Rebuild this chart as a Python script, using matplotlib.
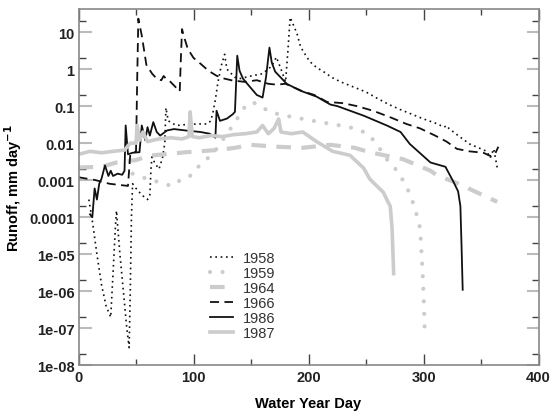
import matplotlib
matplotlib.use('Agg')
import matplotlib.pyplot as plt
from matplotlib.ticker import FixedLocator, FixedFormatter

plt.rcParams['font.family'] = ['Liberation Sans', 'DejaVu Sans']

# ---- data (water year day, runoff mm/day) ----
days_1958 = [9, 12, 16, 20, 24, 28, 30, 32, 33, 36, 39, 42, 44, 45, 46, 47, 50, 55, 60,
             62, 63, 64, 66, 70, 73, 75, 76, 78, 85, 95, 105, 112, 115, 117, 119, 121,
             124, 127, 129, 132, 136, 140, 150, 160, 168, 172, 176, 180, 182, 184, 187,
             190, 193, 197, 201, 207, 213, 220, 228, 240, 250, 260, 270, 280, 290, 300,
             310, 318, 320, 322, 330, 340, 350, 355, 358, 361, 364]
runoff_1958 = [3e-4, 8e-5, 1e-5, 1.5e-6, 4e-7, 2e-7, 3e-6, 5e-5, 1.5e-4, 1e-5, 1e-6, 1e-7,
               3e-8, 1e-6, 1e-4, 8e-4, 6e-4, 4e-4, 3e-4,
               4e-4, 2e-3, 5e-3, 3e-3, 2e-3, 4e-3, 1e-2, 9e-2, 4e-2, 3e-2, 3.2e-2, 3.3e-2,
               3.3e-2, 4e-2, 7e-2, 0.15, 0.4,
               1.2, 2.5, 1.0, 0.8, 0.6, 0.55, 0.65, 0.75, 1.2, 2.1, 1.0, 0.45, 3, 25, 15,
               9, 4, 2.5, 1.6, 1.1, 0.85, 0.6, 0.45, 0.32, 0.24, 0.16, 0.11, 0.08, 0.06, 0.045,
               0.035, 0.027, 0.03, 0.025, 0.016, 0.0095, 0.007, 0.006, 0.004, 0.007, 0.0022]

days_1959 = [47, 55, 65, 73, 82, 90, 95, 100, 105, 110, 116, 123, 129, 136, 143, 151, 158,
             167, 180, 195, 210, 225, 240, 248, 254, 262, 270, 277, 285, 292, 297, 299,
             300, 301]
runoff_1959 = [0.0015, 0.0012, 0.001, 0.0008, 0.0007, 0.0011, 0.0012, 0.0015, 0.0025,
               0.0035, 0.0047, 0.0095, 0.018, 0.036, 0.085, 0.13, 0.1,
               0.068, 0.055, 0.045, 0.037, 0.031, 0.025, 0.02, 0.015, 0.007, 0.003, 0.0018,
               0.0007, 0.0002, 5e-5, 4e-6, 8e-7, 8e-8]

days_1964 = [0, 20, 33, 50, 62, 94, 120, 135, 150, 172, 195, 219, 240, 253, 282, 306, 311,
             335, 340, 364]
runoff_1964 = [0.0022, 0.0023, 0.003, 0.0035, 0.0046, 0.0057, 0.0065, 0.0074, 0.009, 0.008,
               0.0075, 0.009, 0.0075, 0.0057, 0.0037, 0.0018, 0.0014, 0.0007, 0.00058, 0.00026]

days_1966 = [0, 15, 27, 43, 45, 50, 51, 52, 55, 59, 64, 68, 72, 74, 76, 80, 88, 89, 90, 92,
             95, 100, 106, 113, 120, 127, 134, 145, 155, 165, 172, 180, 195, 205, 216, 230,
             242, 256, 271, 285, 297, 310, 320, 329, 340, 352, 358, 362, 365]
runoff_1966 = [0.0012, 0.001, 0.0008, 0.0007, 0.005, 0.006, 0.5, 23, 8, 1.3, 0.75, 0.55,
               0.5, 0.65, 0.55, 0.45, 0.25, 2, 12, 7,
               3.5, 2, 1.4, 0.9, 0.66, 0.55, 0.49, 0.45, 0.5, 0.4, 0.38, 0.4, 0.25, 0.2, 0.13,
               0.12, 0.1, 0.075, 0.05, 0.033, 0.025, 0.016, 0.011, 0.007, 0.006, 0.0055,
               0.0045, 0.005, 0.008]

days_1986 = [10, 12, 14, 16, 18, 20, 23, 26, 28, 30, 34, 38, 40, 41, 43, 47, 53, 55, 58,
             60, 62, 65, 68, 71, 77, 83, 93, 106, 114, 119, 120, 123, 129, 134, 136, 138,
             140, 143, 149, 155, 160, 163, 166, 168, 171, 181, 193, 207, 219, 225, 248,
             268, 280, 288, 306, 319, 326, 330, 332, 333, 334]
runoff_1986 = [1.2e-4, 1e-4, 6e-4, 3e-4, 8e-4, 1.1e-3, 2.5e-3, 1.3e-3, 1.8e-3, 1.3e-3,
               1.5e-3, 1.4e-3, 1.8e-3, 3e-2, 5e-3, 5.5e-3, 5.7e-3, 3e-2, 1.2e-2,
               2.7e-2, 1.6e-2, 3.7e-2, 2e-2, 1.6e-2, 2.2e-2, 2.4e-2, 2.2e-2, 2e-2, 1.8e-2,
               1.4e-2, 7.5e-2, 4e-2, 4.6e-2, 6e-2, 7e-2, 2.3,
               0.9, 0.55, 0.33, 0.2, 0.17, 0.6, 3.8, 1.5, 0.85, 0.4, 0.26, 0.18, 0.11, 0.1,
               0.055, 0.03, 0.02, 0.0095, 0.003, 0.0023, 0.0009, 0.0005, 0.0002, 1.7e-5, 1.1e-6]

days_1987 = [0, 10, 20, 30, 40, 45, 50, 51, 53, 56, 60, 65, 70, 80, 90, 96, 97, 99, 105,
             115, 125, 135, 145, 155, 160, 165, 170, 174, 176, 185, 195, 207, 221, 236,
             248, 253, 256, 265, 269, 271, 272.6, 274]
runoff_1987 = [0.005, 0.006, 0.0055, 0.006, 0.0065, 0.01, 0.01, 0.03, 0.012, 0.02, 0.011,
               0.012, 0.013, 0.014, 0.013, 0.015, 0.07, 0.015, 0.014,
               0.016, 0.015, 0.017, 0.018, 0.02, 0.03, 0.018, 0.025, 0.045, 0.02, 0.018,
               0.02, 0.011, 0.006, 0.0047,
               0.0021, 0.0011, 0.00088, 0.00047, 0.00026, 0.0002, 5e-5, 3e-6]

ytick_vals = [1e-8, 1e-7, 1e-6, 1e-5, 1e-4, 1e-3, 1e-2, 1e-1, 1, 10]
ytick_labels = ['1e-08', '1e-07', '1e-06', '1e-05', '0.0001', '0.001', '0.01', '0.1', '1', '10']

black = '#111111'
gray = '#cccccc'

fig = plt.figure(figsize=(5.51, 4.14), dpi=100)
ax = fig.add_axes([0.1425, 0.115, 0.835, 0.861])

ax.plot(days_1958, runoff_1958, color=black, lw=1.2, linestyle=(0, (1, 2.2)), label='1958')
ax.plot(days_1959, runoff_1959, color=gray, lw=3.0, linestyle=(0, (0.01, 3)),
        dash_capstyle='round', label='1959')
ax.plot(days_1964, runoff_1964, color=gray, lw=3.0, linestyle=(0, (3.5, 2.5)), label='1964')
ax.plot(days_1966, runoff_1966, color=black, lw=1.3, linestyle=(0, (5, 3)), label='1966')
ax.plot(days_1986, runoff_1986, color=black, lw=1.3, label='1986')
ax.plot(days_1987, runoff_1987, color=gray, lw=2.6, label='1987')

ax.set_yscale('log')
ax.set_xlim(0, 400)
ax.set_ylim(1e-8, 42)

ax.xaxis.set_major_locator(FixedLocator([0, 100, 200, 300, 400]))
ax.xaxis.set_minor_locator(FixedLocator([50, 150, 250, 350]))
ax.yaxis.set_major_locator(FixedLocator(ytick_vals))
ax.yaxis.set_major_formatter(FixedFormatter(ytick_labels))
ax.yaxis.set_minor_locator(FixedLocator([2 * v for v in ytick_vals]))
ax.yaxis.set_minor_formatter(FixedFormatter([]))

ax.tick_params(axis='both', which='both', direction='in', top=True, right=True)
ax.tick_params(axis='x', which='major', length=8, width=1, color='#444444')
ax.tick_params(axis='x', which='minor', length=4, width=1, color='#444444')
ax.tick_params(axis='y', which='major', length=9, width=1.5, color='#bbbbbb')
ax.tick_params(axis='y', which='minor', length=5, width=1, color='#444444')
ax.tick_params(axis='both', which='major', labelsize=10.5, labelcolor='#222222', pad=3)
for lab in ax.get_xticklabels() + ax.get_yticklabels():
    lab.set_fontweight('bold')

for sp in ax.spines.values():
    sp.set_color('#888888')
    sp.set_linewidth(1.2)

ax.set_xlabel('Water Year Day', fontsize=10.5, fontweight='bold', labelpad=9)
ax.set_ylabel('Runoff, mm day$^{\\mathbf{-1}}$', fontsize=10.5, fontweight='bold', labelpad=4)

leg = ax.legend(loc='upper left', bbox_to_anchor=(0.285, 0.32), frameon=False,
                fontsize=10.5, handlelength=1.6, handletextpad=0.65, labelspacing=0.06,
                borderpad=0, borderaxespad=0)
for t in leg.get_texts():
    t.set_color('#333333')

fig.savefig('out.png', dpi=100)
